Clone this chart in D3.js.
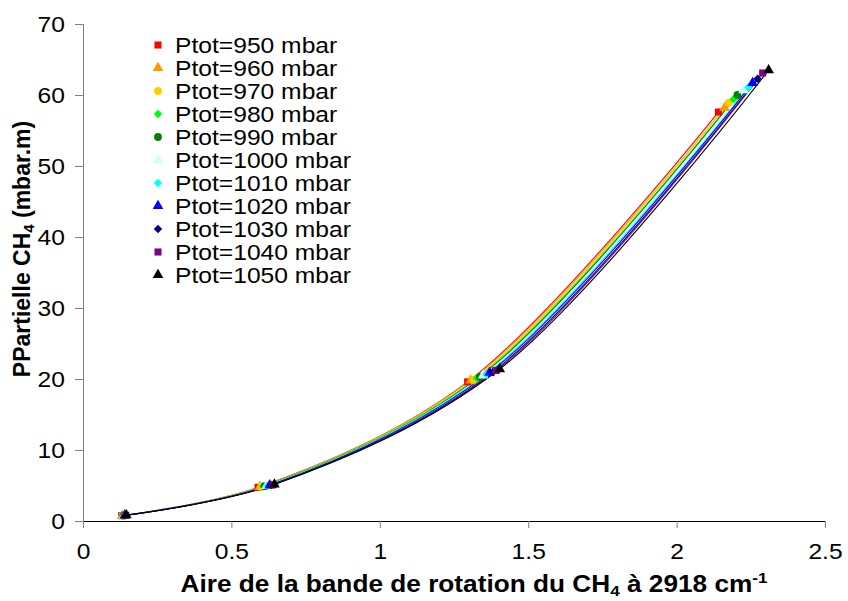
<!DOCTYPE html>
<html><head><meta charset="utf-8">
<script src="https://cdn.jsdelivr.net/npm/d3@7"></script>
<style>body{margin:0;background:#fff}svg{display:block}text{font-family:"Liberation Sans",Arial,sans-serif}</style>
</head><body>
<svg id="c" width="848" height="601"></svg>
<script>
const pressures = [950,960,970,980,990,1000,1010,1020,1030,1040,1050];
const colors = ["#FF0000","#FF9900","#FFCC00","#00FF00","#008000","#CCFFFF","#00FFFF","#0000FF","#000080","#800080","#000000"];
const shapes = ["square","triangle","circle","diamond","circle","triangle","diamond","triangle","diamond","square","triangle"];
const xVals = [
  [0.130,0.590,1.296,2.141],
  [0.132,0.596,1.306,2.162],
  [0.133,0.601,1.316,2.175],
  [0.135,0.607,1.327,2.192],
  [0.136,0.612,1.337,2.205],
  [0.138,0.618,1.348,2.226],
  [0.139,0.623,1.359,2.242],
  [0.141,0.629,1.370,2.256],
  [0.142,0.634,1.381,2.273],
  [0.144,0.640,1.392,2.290],
  [0.146,0.645,1.404,2.310]
];
const yVals = [
  [0.75,4.75,19.6,57.6],
  [0.76,4.79,19.8,58.2],
  [0.76,4.83,19.9,58.9],
  [0.77,4.87,20.1,59.4],
  [0.78,4.91,20.3,60.0],
  [0.78,4.95,20.5,60.7],
  [0.79,4.99,20.7,61.1],
  [0.80,5.03,20.9,61.7],
  [0.80,5.07,21.0,62.3],
  [0.81,5.11,21.2,63.1],
  [0.82,5.15,21.4,63.5]
];
const xTicks = [0,0.5,1,1.5,2,2.5];
const yTicks = [0,10,20,30,40,50,60,70];

const SX = 1.12; // horizontal stretch of text in the reference
const svg = d3.select("#c");
const L=83,R=825,T=24,B=521;
const x = d3.scaleLinear().domain([0,2.5]).range([L,R]);
const y = d3.scaleLinear().domain([0,70]).range([B,T]);

function stretch(sel){
  sel.attr("transform",function(){const xx=+this.getAttribute("x")||0;return `translate(${xx},0) scale(${SX},1)`;}).attr("x",0);
}

// axes
const yAx = svg.append("g").attr("transform",`translate(${L},0)`)
  .call(d3.axisLeft(y).tickValues(yTicks).tickSize(8).tickPadding(10).tickFormat(d3.format("d")));
yAx.select(".domain").attr("stroke","#808080");
yAx.selectAll(".tick line").attr("stroke","#808080");
yAx.selectAll("text").attr("font-size",22).attr("fill","#000").call(stretch);

const xAx = svg.append("g").attr("transform",`translate(0,${B})`)
  .call(d3.axisBottom(x).tickValues(xTicks).tickSize(7).tickPadding(15).tickFormat(d=>String(d)));
xAx.select(".domain").attr("stroke","#000");
xAx.selectAll(".tick line").attr("stroke","#808080");
xAx.selectAll("text").attr("font-size",22).attr("fill","#000").call(stretch);

// lines
const line = d3.line().x(d=>x(d[0])).y(d=>y(d[1])).curve(d3.curveCatmullRom.alpha(0.5));
function sym(s){
  const m={square:d3.symbolSquare,triangle:d3.symbolTriangle,circle:d3.symbolCircle,diamond:d3.symbolSquare};
  const sz={square:50,triangle:50,circle:48,diamond:36};
  return d3.symbol().type(m[s]).size(sz[s])();
}
function rot(s){ return s==="diamond" ? " rotate(45)" : ""; }
pressures.forEach((p,i)=>{
  const pts = xVals[i].map((v,j)=>[v,yVals[i][j]]);
  svg.append("path").attr("d",line(pts)).attr("fill","none").attr("stroke",colors[i]).attr("stroke-width",1.1);
});
pressures.forEach((p,i)=>{
  const pts = xVals[i].map((v,j)=>[v,yVals[i][j]]);
  svg.append("g").selectAll("path").data(pts).join("path")
    .attr("d",sym(shapes[i])).attr("transform",d=>`translate(${x(d[0])},${y(d[1])})${rot(shapes[i])}`)
    .attr("fill",colors[i]);
});

// legend
const lg = svg.append("g");
pressures.forEach((p,i)=>{
  const yy = 45 + i*23;
  lg.append("path").attr("d",sym(shapes[i])).attr("transform",`translate(158,${yy})${rot(shapes[i])}`).attr("fill",colors[i]);
  lg.append("text").attr("transform",`translate(175,${yy+8}) scale(${SX},1)`).attr("font-size",22).text(`Ptot=${p} mbar`);
});

// titles
const xt = svg.append("text").attr("transform",`translate(474,592) scale(1.14,1)`).attr("text-anchor","middle")
  .attr("font-size",23).attr("font-weight","bold");
xt.append("tspan").text("Aire de la bande de rotation du CH");
xt.append("tspan").attr("font-size",15).attr("dy",4).text("4");
xt.append("tspan").attr("dy",-4).text(" à 2918 cm");
xt.append("tspan").attr("font-size",15).attr("dy",-9).text("-1");

const yt = svg.append("text").attr("transform","translate(30,249) rotate(-90)").attr("text-anchor","middle")
  .attr("font-size",23).attr("font-weight","bold");
yt.append("tspan").text("PPartielle CH");
yt.append("tspan").attr("font-size",15).attr("dy",4).text("4");
yt.append("tspan").attr("dy",-4).text(" (mbar.m)");
</script>
</body></html>
